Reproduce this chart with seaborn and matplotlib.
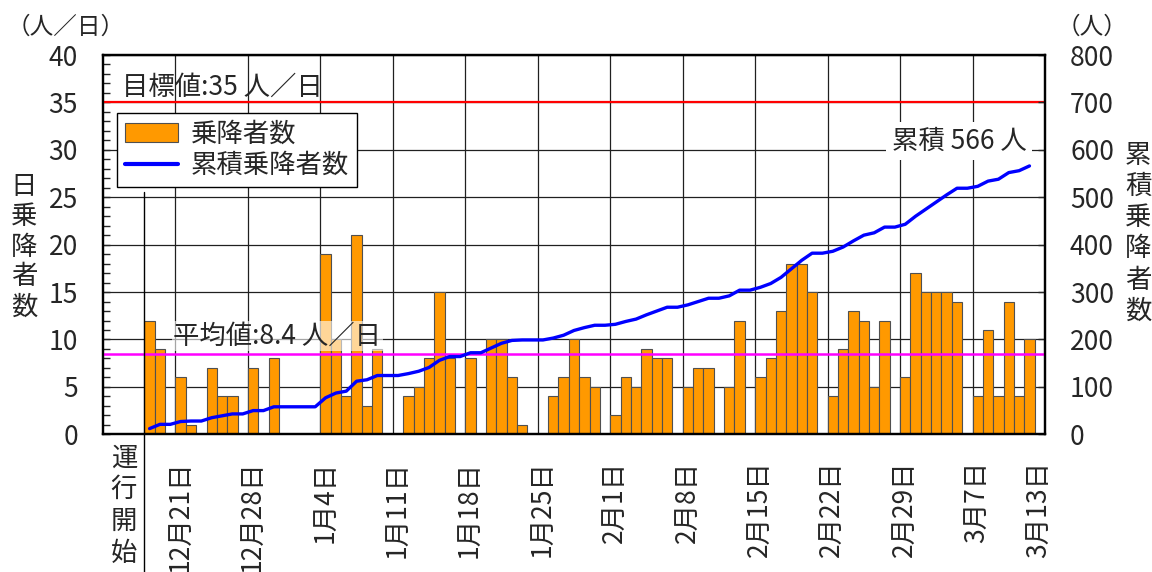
import numpy as np
import pandas as pd
import seaborn as sns
import matplotlib.pyplot as plt
import matplotlib.transforms as mtransforms
from matplotlib.patches import Patch
from matplotlib.lines import Line2D
from matplotlib.ticker import MultipleLocator

# === 描画スタイル ===
sns.set_style("white")
plt.rcParams['font.family'] = ['Noto Sans CJK JP', 'DejaVu Sans']
plt.rcParams['axes.unicode_minus'] = False

# === データ ===
axis_start = "2019-12-14"
axis_end = "2020-03-13"
start_date = "2019-12-18"   # 運行開始
daily_riders = [
    12, 9, 0, 6, 1, 0, 7, 4, 4, 0, 7, 0, 8, 0,          # 12/18 - 12/31
    0, 0, 0, 19, 10, 4, 21, 3, 9, 0, 0, 4, 5, 8, 15,     # 1/1 - 1/15
    8, 0, 8, 0, 10, 10, 6, 1, 0, 0, 4, 6, 10, 6, 5, 0,   # 1/16 - 1/31
    2, 6, 5, 9, 8, 8, 0, 5, 7, 7, 0, 5, 12, 0, 6,        # 2/1 - 2/15
    8, 13, 18, 18, 15, 0, 4, 9, 13, 12, 5, 12, 0, 6,     # 2/16 - 2/29
    17, 15, 15, 15, 14, 0, 4, 11, 4, 14, 4, 10,          # 3/1 - 3/12
]
tick_dates = ["2019-12-21", "2019-12-28", "2020-01-04", "2020-01-11", "2020-01-18",
              "2020-01-25", "2020-02-01", "2020-02-08", "2020-02-15", "2020-02-22",
              "2020-02-29", "2020-03-07", "2020-03-13"]
tick_labels = ["12月21日", "12月28日", "1月4日", "1月11日", "1月18日", "1月25日",
               "2月1日", "2月8日", "2月15日", "2月22日", "2月29日", "3月7日", "3月13日"]
target_value = 35
average_value = 8.5
target_text = "目標値:35 人／日"
average_text = "平均値:8.4 人／日"
total_text = "累積 566 人"

# === 前処理 ===
t0 = pd.Timestamp(start_date)
def day_index(d):
    return (pd.Timestamp(d) - t0).days

df = pd.DataFrame({
    "day": np.arange(len(daily_riders)),
    "riders": daily_riders,
})
df["cum"] = np.cumsum(df["riders"])
tick_pos = [day_index(d) for d in tick_dates]
x_lo = day_index(axis_start) - 0.5
x_hi = day_index(axis_end) + 0.5
week_lines = np.arange(x_lo + 7, x_hi - 1, 7)

# === 描画 ===
fig = plt.figure(figsize=(11.52, 5.72), dpi=100)
ax = fig.add_axes([103 / 1152, 1 - 434.3 / 572, 942 / 1152, 379.3 / 572])
ax2 = ax.twinx()

sns.barplot(data=df, x="day", y="riders", native_scale=True, width=1.0,
            color="#FF9900", saturation=1, edgecolor="#505050", linewidth=0.8,
            errorbar=None, ax=ax, zorder=2)
ax.axhline(target_value, color="#FF0000", lw=1.6, zorder=3)
ax.axhline(average_value, color="#FF00FF", lw=1.8, zorder=3)

sns.lineplot(data=df, x="day", y="cum", ax=ax2, color="#0000FF", lw=2.4, zorder=4)

# 軸
ax.set_xlim(x_lo, x_hi)
ax.set_ylim(0, 40)
ax2.set_ylim(0, 800)
ax.set_xticks(tick_pos)
ax.set_xticklabels(tick_labels, rotation=90, va="top", ha="center", fontsize=19)
ax.set_xticks(week_lines, minor=True)
ax.yaxis.set_major_locator(MultipleLocator(5))
ax.yaxis.set_minor_locator(MultipleLocator(1))
ax2.yaxis.set_major_locator(MultipleLocator(100))
ax.set_xlabel("")
ax.set_ylabel("")
ax2.set_ylabel("")

ax.tick_params(axis="x", which="both", length=0, pad=19)
ax.tick_params(axis="y", which="major", direction="in", length=5, width=1, pad=18, labelsize=19, left=True)
ax.tick_params(axis="y", which="minor", direction="in", length=5, width=1, left=True)
ax2.tick_params(axis="y", which="major", direction="in", length=5, width=1, pad=18, labelsize=19, right=True)

ax.set_axisbelow(True)
ax.grid(axis="y", which="major", color="#202020", lw=0.9)
ax.grid(axis="x", which="minor", color="#202020", lw=0.9)
ax.grid(axis="x", which="major", visible=False)
ax2.grid(False)
for a in (ax, ax2):
    for s in a.spines.values():
        s.set_color("black")
        s.set_linewidth(1.6)

# 注記
ax.text(-2.66, 36.6, target_text, fontsize=19, ha="left", va="center", zorder=5)
ax.text(2.3, 10.37, average_text, fontsize=19, ha="left", va="center", zorder=5,
        bbox=dict(facecolor="white", alpha=0.6, edgecolor="none", pad=1))
ax2.text(78.2, 30.9 * 20, total_text, fontsize=19, ha="center", va="center", zorder=5,
         bbox=dict(facecolor="white", edgecolor="none", pad=4))

# 凡例
handles = [Patch(facecolor="#FF9900", edgecolor="#505050", linewidth=0.8),
           Line2D([0], [0], color="#0000FF", lw=3)]
leg = ax2.legend(handles, ["乗降者数", "累積乗降者数"], loc="upper left",
                 bbox_to_anchor=(14 / 942, (434.3 - 113) / 379.3), borderaxespad=0,
                 fancybox=False, framealpha=1, edgecolor="black", fontsize=19,
                 handlelength=2.0, handleheight=0.7, handletextpad=0.5,
                 borderpad=0.3, labelspacing=0.15)
leg.get_frame().set_linewidth(1.0)
leg.set_zorder(10)

# 軸ラベル (縦書き)
fig.text(66 / 1152, 1 - 27 / 572, "（人／日）", fontsize=17, ha="center", va="center")
fig.text(1092 / 1152, 1 - 27 / 572, "（人）", fontsize=17, ha="center", va="center")
for i, ch in enumerate("日乗降者数"):
    fig.text(24 / 1152, 1 - (187 + 30 * i) / 572, ch, fontsize=19, ha="center", va="center")
for i, ch in enumerate("累積乗降者数"):
    fig.text(1138 / 1152, 1 - (155 + 31.3 * i) / 572, ch, fontsize=19, ha="center", va="center")
for i, ch in enumerate("運行開始"):
    fig.text(124 / 1152, 1 - (458 + 31.7 * i) / 572, ch, fontsize=19, ha="center", va="center")

# 運行開始の区切り線
trans = mtransforms.blended_transform_factory(ax.transData, fig.transFigure)
fig.add_artist(Line2D([-0.5, -0.5], [1 - 192 / 572, 0], transform=trans,
                      color="black", lw=1.0))

fig.savefig("out.png", dpi=100)
